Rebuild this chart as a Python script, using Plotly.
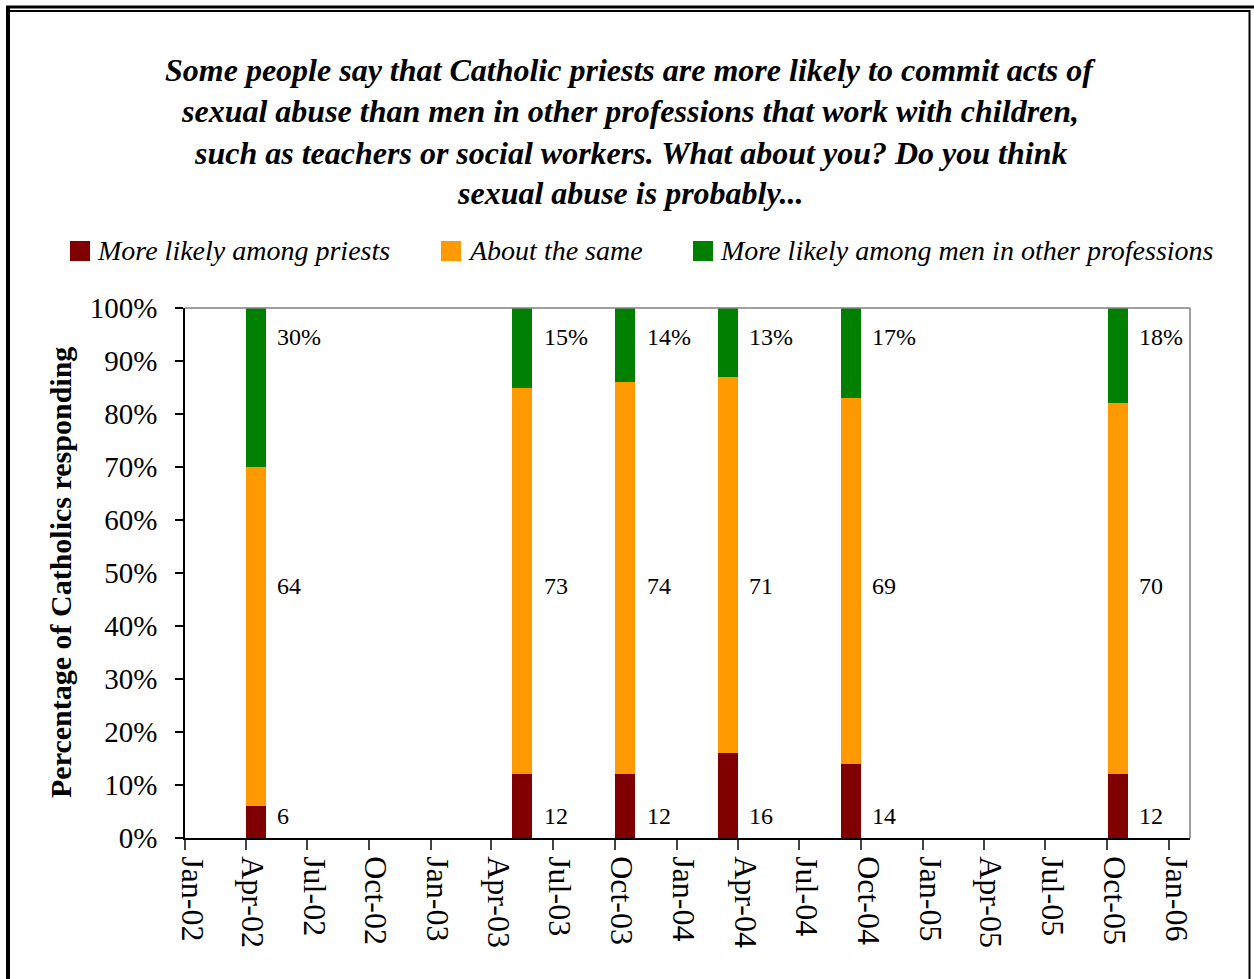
import plotly.graph_objects as go
import pandas as pd

# ---- data ----
months = ["2002-04", "2003-05", "2003-10", "2004-03", "2004-09", "2005-10"]
priests = [6, 12, 12, 16, 14, 12]
same = [64, 73, 74, 71, 69, 70]
other = [30, 15, 14, 13, 17, 18]
series_names = ["More likely among priests", "About the same",
                "More likely among men in other professions"]
colors = ["#800000", "#FF9900", "#008000"]
title_lines = [
    "Some people say that Catholic priests are more likely to commit acts of",
    "sexual abuse than men in other professions that work with children,",
    "such as teachers or social workers. What about you? Do you think",
    "sexual abuse is probably...",
]
y_title = "Percentage of Catholics responding"

# ---- geometry (page pixels) ----
W, H = 1254, 979
L, R, T, B = 185, 1190, 308, 838
PW, PH = R - L, B - T


def px(xp):
    return (xp - L) / PW


def py(yp):
    return (B - yp) / PH


starts = pd.to_datetime(months)
ends = starts + pd.offsets.MonthBegin(1)
mids = starts + (ends - starts) / 2
bar_w = 29.5 * 86400000

FONT = "Times New Roman, Liberation Serif, serif"

fig = go.Figure()
for vals, name, col in zip([priests, same, other], series_names, colors):
    fig.add_trace(go.Bar(
        x=mids, y=vals, name=name, marker=dict(color=col, line=dict(width=0)),
        width=[bar_w] * len(vals), showlegend=False, hoverinfo="x+y+name",
    ))

annotations = []
# data labels
label_y = [4.2, 47.5, 94.5]
for k, vals in enumerate([priests, same, other]):
    for i, v in enumerate(vals):
        txt = f"{v}%" if k == 2 else f"{v}"
        annotations.append(dict(
            x=ends[i], y=label_y[k], xref="x", yref="y", text=txt,
            showarrow=False, xanchor="left", yanchor="middle", xshift=9,
            font=dict(family=FONT, size=24, color="black"),
        ))

# title lines
title_y = [70, 111, 153, 193]
for t, yy in zip(title_lines, title_y):
    annotations.append(dict(
        x=px(630), y=py(yy), xref="paper", yref="paper", text=f"<b><i>{t}</i></b>",
        showarrow=False, xanchor="center", yanchor="middle",
        font=dict(family=FONT, size=32, color="black"),
    ))

# y-axis title
annotations.append(dict(
    x=px(60), y=py(573), xref="paper", yref="paper", text=f"<b>{y_title}</b>",
    showarrow=False, textangle=-90, xanchor="center", yanchor="middle",
    font=dict(family=FONT, size=30, color="black"),
))

# manual legend
shapes = []
leg_sq = [70, 441, 693]
for xs, name, col in zip(leg_sq, series_names, colors):
    shapes.append(dict(type="rect", xref="paper", yref="paper",
                       x0=px(xs), x1=px(xs + 20), y0=py(261), y1=py(241),
                       fillcolor=col, line=dict(width=0)))
    annotations.append(dict(
        x=px(xs + 25), y=py(250), xref="paper", yref="paper", text=f"<i>{name}</i>",
        showarrow=False, xanchor="left", yanchor="middle",
        font=dict(family=FONT, size=28, color="black"),
    ))

# plot area border (top/right gray)
shapes.append(dict(type="line", xref="paper", yref="paper", x0=0, x1=1, y0=1, y1=1,
                   line=dict(color="#808080", width=1.5)))
shapes.append(dict(type="line", xref="paper", yref="paper", x0=1, x1=1, y0=0, y1=1,
                   line=dict(color="#808080", width=1.5)))

# outer frame
shapes.append(dict(type="line", xref="paper", yref="paper", x0=px(6), x1=px(1254),
                   y0=py(7), y1=py(7), line=dict(color="black", width=3)))
shapes.append(dict(type="rect", xref="paper", yref="paper", x0=px(8.5), x1=px(1249.5),
                   y0=py(995), y1=py(11), line=dict(color="black", width=2)))
shapes.append(dict(type="line", xref="paper", yref="paper", x0=px(8), x1=px(8),
                   y0=py(7), y1=py(995), line=dict(color="black", width=4)))

fig.update_layout(
    width=W, height=H, barmode="stack", bargap=0,
    margin=dict(l=L, r=W - R, t=T, b=H - B, pad=0),
    paper_bgcolor="white", plot_bgcolor="white",
    font=dict(family=FONT, color="black"),
    annotations=annotations, shapes=shapes, showlegend=False,
    xaxis=dict(
        type="date", range=["2002-01-01", "2006-02-01"],
        tick0="2002-01-01", dtick="M3", tickformat="%b-%y",
        tickangle=90, ticks="outside", ticklen=10, tickcolor="#444",
        tickwidth=1.5, showline=True, linecolor="black", linewidth=1.5,
        showgrid=False, zeroline=False,
        tickfont=dict(family=FONT, size=32, color="black"),
        ticklabelshift=7,
    ),
    yaxis=dict(
        range=[0, 100], dtick=10, ticksuffix="%",
        ticks="outside", ticklen=8, tickcolor="black", tickwidth=1.5,
        showline=True, linecolor="black", linewidth=1.5,
        showgrid=False, zeroline=False, ticklabelstandoff=12,
        tickfont=dict(family=FONT, size=29, color="black"),
    ),
)

fig.write_html("out.html")
